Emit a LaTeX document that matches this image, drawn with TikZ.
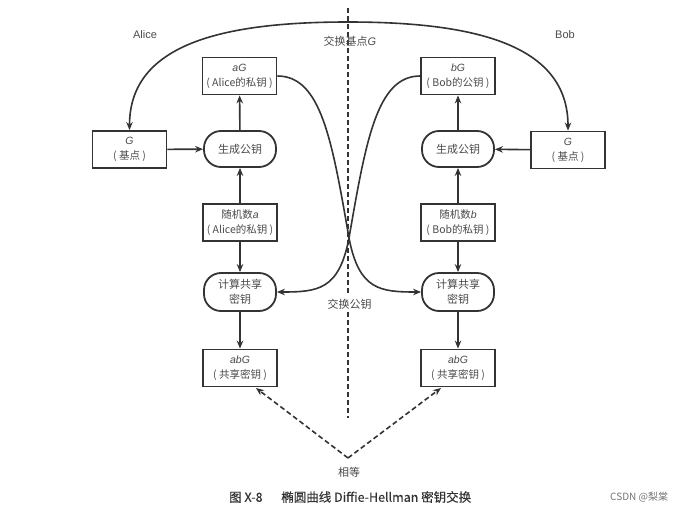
\documentclass[tikz,border=0pt]{standalone}
\usepackage{fontspec}
\setmainfont{Noto Sans CJK SC}
\newfontfamily\vf{Liberation Sans}
\newfontfamily\capf{Noto Sans CJK SC}[FakeBold=0.3]
\usetikzlibrary{arrows.meta}
\definecolor{ln}{HTML}{333333}
\definecolor{tx}{HTML}{4A4A4A}
\newcommand\va[1]{{\vf\itshape #1}}
\begin{document}
\begin{tikzpicture}[x=1pt,y=-1pt,
  box/.style={draw=ln,line width=1.8pt,minimum width=74pt,minimum height=37pt,inner sep=1pt,align=center,text=tx,font=\fontsize{10.5}{15}\selectfont},
  proc/.style={box,rounded corners=17pt,minimum width=72pt,minimum height=36pt,font=\fontsize{11}{15}\selectfont},
  arr/.style={draw=ln,line width=1.6pt,-{Stealth[length=8pt,width=6.5pt]}},
  darr/.style={arr,dash pattern=on 5pt off 3pt},
  lbl/.style={text=tx,font=\fontsize{11}{13}\selectfont,inner sep=0pt},
]
\useasboundingbox (0,0) rectangle (693,511);
% divider
\coordinate (d1) at (348,8);
\coordinate (d2) at (348,418);
\draw[ln,line width=1.2pt,dash pattern=on 5pt off 3pt] (d1) -- (d2);

% nodes
\node[box]  (aG)   at (239.5,76)  {\va{aG}\\( Alice的私钥 )};
\node[box]  (bG)   at (458,76)    {\va{bG}\\( Bob的公钥 )};
\node[box]  (GL)   at (129.5,149.5) {\va{G}\\( 基点 )};
\node[box]  (GR)   at (568,150)   {\va{G}\\( 基点 )};
\node[proc] (genL) at (240,149)   {生成公钥};
\node[proc] (genR) at (458,149)   {生成公钥};
\node[box]  (rA)   at (240,222.5) {随机数\va{a}\\( Alice的私钥 )};
\node[box]  (rB)   at (458,222.5) {随机数\va{b}\\( Bob的私钥 )};
\node[proc,minimum height=38pt] (cL) at (240,292) {计算共享\\密钥};
\node[proc,minimum height=38pt] (cR) at (458,292) {计算共享\\密钥};
\node[box]  (sL)   at (240,368)   {\va{abG}\\( 共享密钥 )};
\node[box]  (sR)   at (458,368)   {\va{abG}\\( 共享密钥 )};

% labels
\node[lbl] (alice) at (145,35) {\vf Alice};
\node[lbl] (bob)   at (565,35) {\vf Bob};
\node[lbl] (xg)    at (350,41) {交换基点\va{G}};
\node[lbl,fill=white,inner ysep=3pt] (xk) at (349.5,304) {交换公钥};
\node[lbl] (eq)    at (349,472) {相等};

% straight arrows
\draw[arr] (GL) -- (genL);
\draw[arr] (GR) -- (genR);
\draw[arr] (genL) -- (aG);
\draw[arr] (genR) -- (bG);
\draw[arr] (rA) -- (genL);
\draw[arr] (rB) -- (genR);
\draw[arr] (rA) -- (cL);
\draw[arr] (rB) -- (cR);
\draw[arr] (cL) -- (sL);
\draw[arr] (cR) -- (sR);

% top exchange curve
\coordinate (top) at (348,22);
\draw[draw=ln,line width=1.6pt,{Stealth[length=8pt,width=6.5pt]}-{Stealth[length=8pt,width=6.5pt]}]
  (GL.north) .. controls (129.5,45) and (220,22) .. (top)
  .. controls (476,22) and (568,45) .. (GR.north);

% crossing curves
\coordinate (X) at (349,238);
\draw[arr] (aG.east) .. controls (321,76) and (332,140) .. (X)
  .. controls (359,290) and (380,292) .. (cR.west);
\draw[arr] (bG.west) .. controls (377,76) and (366,140) .. (X)
  .. controls (339,290) and (318,292) .. (cL.east);

% equality
\coordinate (v) at (348,458);
\draw[darr] (v) -- (256,388);
\draw[darr] (v) -- (441,388);

% caption
\node[anchor=west,inner sep=0pt,text=ln,font=\capf\fontsize{12.5}{14}\selectfont] (cap) at (229,497)
  {图 X-8\hspace{1.5em}椭圆曲线 Diffie-Hellman 密钥交换};
\node[anchor=west,inner sep=0pt,text=black!55,font=\fontsize{10}{12}\selectfont] (wm) at (610,497) {CSDN @梨棠};
\end{tikzpicture}
\end{document}
